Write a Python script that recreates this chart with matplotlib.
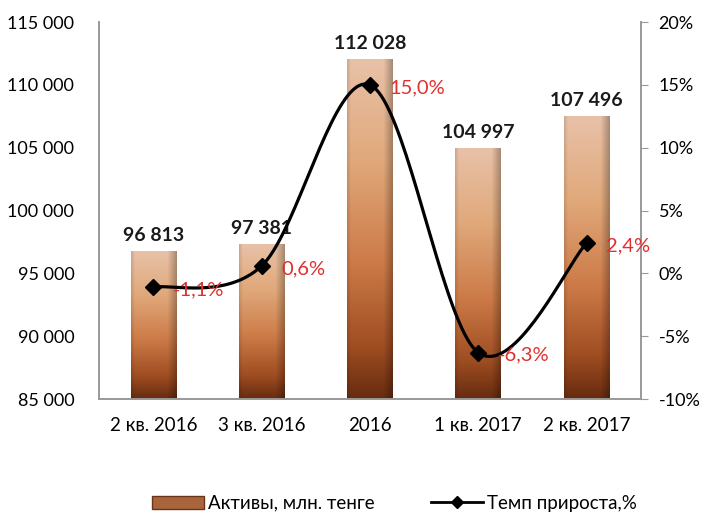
import numpy as np
import matplotlib
matplotlib.use("Agg")
import matplotlib.pyplot as plt
from matplotlib.patches import Rectangle
from matplotlib.ticker import FuncFormatter
from matplotlib.lines import Line2D

plt.rcParams['font.family'] = ['Lato', 'DejaVu Sans']

# data
categories = ["2 кв. 2016", "3 кв. 2016", "2016", "1 кв. 2017", "2 кв. 2017"]
assets = [96813, 97381, 112028, 104997, 107496]
growth = [-1.1, 0.6, 15.0, -6.3, 2.4]
growth_labels = ["-1,1%", "0,6%", "15,0%", "-6,3%", "2,4%"]


def catmull_rom(xs, ys, n=40):
    # smoothed line like the excel one
    px = np.concatenate([[xs[0]], xs, [xs[-1]]])
    py = np.concatenate([[ys[0]], ys, [ys[-1]]])
    outx, outy = [], []
    for i in range(1, len(px) - 2):
        p0, p1, p2, p3 = [np.array([px[j], py[j]]) for j in range(i - 1, i + 3)]
        c1 = p1 + (p2 - p0) / 6.0
        c2 = p2 - (p3 - p1) / 6.0
        t = np.linspace(0, 1, n)[:, None]
        pts = ((1 - t) ** 3) * p1 + 3 * ((1 - t) ** 2) * t * c1 + 3 * (1 - t) * t ** 2 * c2 + t ** 3 * p2
        outx.extend(pts[:, 0])
        outy.extend(pts[:, 1])
    return np.array(outx), np.array(outy)


def bar_image(h=300, w=60):
    stops = [0.0, 0.3, 0.6, 0.85, 1.0]
    cols = np.array([[0.91, 0.76, 0.66],
                     [0.88, 0.66, 0.48],
                     [0.80, 0.48, 0.28],
                     [0.62, 0.30, 0.13],
                     [0.40, 0.17, 0.06]])
    v = np.linspace(0, 1, h)
    col = np.stack([np.interp(v, stops, cols[:, k]) for k in range(3)], axis=-1)[:, None, :]
    col = np.repeat(col, w, axis=1)
    u = np.linspace(0, 1, w)[None, :]
    shade = 1 - 0.28 * np.clip((u - 0.80) / 0.2, 0, 1) - 0.12 * np.clip((0.08 - u) / 0.08, 0, 1)
    col = col * shade[..., None]
    return np.clip(col, 0, 1)


fig = plt.figure(figsize=(7.04, 5.13), dpi=100)
ax = fig.add_axes([0.141, 0.222, 0.769, 0.735])
ax2 = ax.twinx()

x = np.arange(len(categories))
width = 0.42
img = bar_image()
for xi, val in zip(x, assets):
    r = Rectangle((xi - width / 2, 85000), width, val - 85000, facecolor='none', edgecolor='none')
    ax.add_patch(r)
    im = ax.imshow(img, extent=(xi - width / 2, xi + width / 2, 85000, val), aspect='auto', zorder=2)
    im.set_clip_path(r)
    ax.text(xi, val + 550, f"{val:,}".replace(",", " "), ha='center', va='bottom',
            fontsize=14, fontweight='bold', color='#1a1a1a')

ax.set_xlim(-0.5, 4.5)
ax.set_ylim(85000, 115000)
ax.set_yticks(np.arange(85000, 115001, 5000))
ax.yaxis.set_major_formatter(FuncFormatter(lambda v, p: f"{int(v):,}".replace(",", " ")))
ax.set_xticks(x)
ax.set_xticklabels(categories)
ax.tick_params(axis='y', labelsize=13, length=0, pad=18)
ax.tick_params(axis='x', labelsize=13.5, length=0, pad=13)

sx, sy = catmull_rom(x.astype(float), np.array(growth))
ax2.plot(sx, sy, color='black', lw=2.3, zorder=3)
ax2.plot(x, growth, 'D', color='black', markersize=8, zorder=4)
for xi, g, lab in zip(x, growth, growth_labels):
    ax2.text(xi + 0.18, g - 0.2, lab, ha='left', va='center', fontsize=14.5, color='#e0302e')
ax2.set_ylim(-10, 20)
ax2.set_yticks(np.arange(-10, 21, 5))
ax2.yaxis.set_major_formatter(FuncFormatter(lambda v, p: f"{int(v)}%"))
ax2.tick_params(axis='y', labelsize=13, length=5, color='#999999', pad=8)

for a in (ax, ax2):
    a.spines['top'].set_visible(False)
    for s in ('left', 'right', 'bottom'):
        a.spines[s].set_color('#999999')
        a.spines[s].set_linewidth(1.2)

handles = [Rectangle((0, 0), 1, 1, facecolor='#a8653c', edgecolor='#6b3416'),
           Line2D([0], [0], color='black', lw=2, marker='D', markersize=6)]
fig.legend(handles, ["Активы, млн. тенге", "Темп прироста,%"], loc='lower left',
           bbox_to_anchor=(0.205, -0.012), borderaxespad=0, ncol=2, frameon=False, fontsize=13.5,
           handlelength=2.8, columnspacing=3.0, handletextpad=0.2)

fig.savefig("out.png", dpi=100)
